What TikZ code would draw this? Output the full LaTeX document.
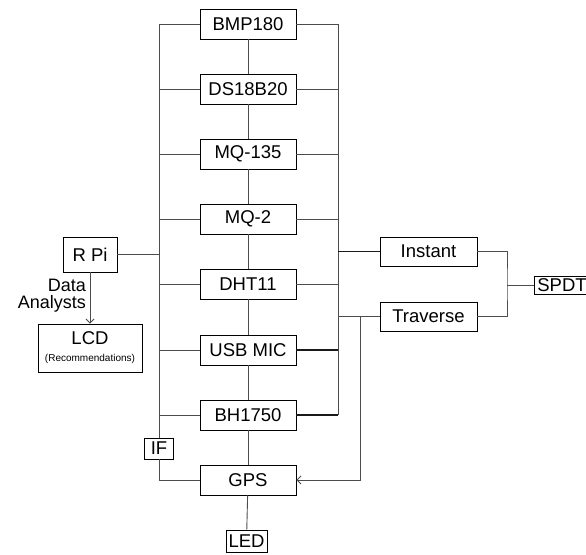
\documentclass[tikz,border=0pt]{standalone}
\usepackage{fontspec}
\setmainfont{Liberation Sans}
\usetikzlibrary{arrows.meta}

\begin{document}
\begin{tikzpicture}[x=1pt, y=-1pt,
  blk/.style={draw, line width=0.9pt, inner sep=0pt, font=\fontsize{18.5}{20}\selectfont},
  sensor/.style={blk, minimum width=96pt, minimum height=30pt},
  tag/.style={blk, inner sep=1.5pt},
  wire/.style={line width=0.9pt, black!70},
  bold/.style={line width=1.8pt, black!90}]

\useasboundingbox (0,0) rectangle (586,554);

% ---- sensor column ---------------------------------------------------------
\foreach \n/\t/\y in {bmp/BMP180/24, ds/DS18B20/89, mqa/MQ-135/154,
    mqb/MQ-2/219, dht/DHT11/284, mic/USB MIC/350, bh/BH1750/415, gps/GPS/480}
  \node[sensor] (\n) at (248,\y) {\t};
\node[tag, minimum width=41pt, minimum height=22pt] (led) at (246.5,541) {LED};

% ---- controller and display ------------------------------------------------
\node[blk, minimum width=54pt, minimum height=35pt] (rpi) at (90,254.5) {R Pi};
\node[blk, minimum width=104pt, minimum height=48pt, align=center] (lcd) at (90,348)
  {LCD\\[-3pt]{\fontsize{10}{11}\selectfont(Recommendations)}};
\node[tag, minimum width=29pt, minimum height=21pt] (ifc) at (159,448.5) {IF};

% ---- mode switch -----------------------------------------------------------
\node[blk, minimum width=97pt, minimum height=29pt] (inst) at (428.5,251.5) {Instant};
\node[blk, minimum width=97pt, minimum height=29pt] (trav) at (428.5,316.5) {Traverse};
\node[tag, minimum width=56pt, minimum height=18pt] (spdt) at (562,285) {SPDT};

% ---- column links ----------------------------------------------------------
\foreach \a/\b in {bmp/ds, ds/mqa, mqa/mqb, mqb/dht, dht/mic, mic/bh, bh/gps, gps/led}
  \draw[wire] (\a) -- (\b);

% ---- left bus --------------------------------------------------------------
\draw[wire] (bmp.west) -| (ifc.north);
\foreach \n in {ds, mqa, mqb, dht, mic, bh}
  \draw[wire] (\n.west) -- (\n.west -| ifc.north);
\draw[wire] (rpi.east) -- (rpi.east -| ifc.north);
\draw[wire] (ifc.south) |- (gps.west);

% ---- right bus -------------------------------------------------------------
\coordinate (rbus) at (338,415);
\coordinate (tap) at (360,0);
\draw[wire] (bmp.east) -| (rbus);
\foreach \n in {ds, mqa, mqb, dht}
  \draw[wire] (\n.east) -- (\n.east -| rbus);
\foreach \n in {mic, bh}
  \draw[bold] (\n.east) -- (\n.east -| rbus);
\draw[bold] (inst.west) -- (inst.west -| rbus);
\draw[wire] (trav.west) -- (trav.west -| rbus);
\draw[wire, -{Straight Barb[length=4pt, width=8pt]}] (trav.west -| tap) |- (gps.east);

% ---- switch joint ----------------------------------------------------------
\coordinate (sw) at (507,285);
\draw[wire] (inst.east) -| (sw) |- (trav.east);
\draw[wire] (sw) -- (spdt.west);

% ---- data flow -------------------------------------------------------------
\draw[wire, -{Straight Barb[length=4pt, width=8pt]}] (rpi) -- (lcd);
\node[anchor=east, align=right, inner sep=0pt, font=\fontsize{18}{17}\selectfont]
  (lbl) at (86,296) {Data\\Analysts};

\end{tikzpicture}
\end{document}
